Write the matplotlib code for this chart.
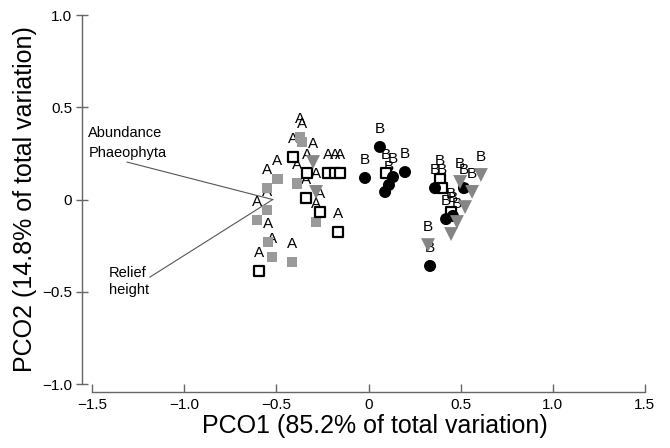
import matplotlib
matplotlib.use("Agg")
import matplotlib.pyplot as plt

plt.rcParams['font.family'] = ['Liberation Sans', 'DejaVu Sans']

# ---- data (PCO scores) ----
sqgray_A_x = [-0.361, -0.372, -0.388, -0.285, -0.496, -0.551, -0.551, -0.605, -0.545, -0.524, -0.415]
sqgray_A_y = [0.312, 0.339, 0.089, -0.122, 0.111, 0.062, -0.057, -0.111, -0.230, -0.312, -0.339]
sqopen_A_x = [-0.410, -0.334, -0.220, -0.182, -0.155, -0.339, -0.263, -0.165, -0.594]
sqopen_A_y = [0.230, 0.144, 0.144, 0.144, 0.144, 0.008, -0.068, -0.176, -0.388]
tri_A_x = [-0.301, -0.285]
tri_A_y = [0.203, 0.041]

circ_B_x = [0.062, -0.019, 0.133, 0.111, 0.090, 0.198, 0.361, 0.518, 0.421, 0.458, 0.334]
circ_B_y = [0.285, 0.117, 0.122, 0.079, 0.041, 0.149, 0.062, 0.062, -0.106, -0.089, -0.360]
sqopen_B_x = [0.095, 0.388, 0.399, 0.448]
sqopen_B_y = [0.144, 0.111, 0.062, -0.068]
tri_B_x = [0.497, 0.610, 0.562, 0.524, 0.480, 0.448, 0.323]
tri_B_y = [0.095, 0.133, 0.041, -0.041, -0.122, -0.187, -0.247]

vec_origin = (-0.52, 0.0)
vec_end_x = [-1.31, -1.186]
vec_end_y = [0.203, -0.42]

xticks = [-1.5, -1.0, -0.5, 0, 0.5, 1.0, 1.5]
xticklabels = ["\u22121.5", "\u22121.0", "\u22120.5", "0", "0.5", "1.0", "1.5"]
yticks = [-1.0, -0.5, 0, 0.5, 1.0]
yticklabels = ["\u22121.0", "\u22120.5", "0", "0.5", "1.0"]

# ---- figure ----
fig = plt.figure(figsize=(6.7, 4.48), dpi=100)
ax = fig.add_axes([82/670, (448-392)/448, (667-82)/670, (392-5.8)/448])
ax.set_xlim(-1.555, 1.62)
ax.set_ylim(-1.043, 1.05)

gray_sq = '#9a9a9a'
gray_tri = '#858585'

def lab(xs, ys, letter):
    for x, y in zip(xs, ys):
        ax.annotate(letter, (x, y), xytext=(0, 13), textcoords='offset points',
                    ha='center', va='center', fontsize=11, color='black', zorder=2)

series = [
    (sqgray_A_x, sqgray_A_y, 'A', dict(marker='s', s=60, c=gray_sq, edgecolors='none')),
    (sqopen_A_x, sqopen_A_y, 'A', dict(marker='s', s=44, facecolors='white', edgecolors='black', linewidths=1.6)),
    (tri_A_x, tri_A_y, 'A', dict(marker='v', s=100, c=gray_tri, edgecolors='none')),
    (sqopen_B_x, sqopen_B_y, 'B', dict(marker='s', s=44, facecolors='white', edgecolors='black', linewidths=1.6)),
    (circ_B_x, circ_B_y, 'B', dict(marker='o', s=75, c='black', edgecolors='none')),
    (tri_B_x, tri_B_y, 'B', dict(marker='v', s=100, c=gray_tri, edgecolors='none')),
]
for xs, ys, letter, kw in series:
    lab(xs, ys, letter)
for xs, ys, letter, kw in series:
    ax.scatter(xs, ys, zorder=3, **kw)

# vectors
for ex, ey in zip(vec_end_x, vec_end_y):
    ax.plot([vec_origin[0], ex], [vec_origin[1], ey], color='#555555', lw=0.8, zorder=1)

ax.text(-1.52, 0.338, "Abundance", fontsize=10.5, ha='left', va='baseline')
ax.text(-1.52, 0.232, "Phaeophyta", fontsize=10.5, ha='left', va='baseline')
ax.text(-1.41, -0.42, "Relief", fontsize=10.5, ha='left', va='baseline')
ax.text(-1.41, -0.51, "height", fontsize=10.5, ha='left', va='baseline')

# axes styling
for s in ['top', 'right']:
    ax.spines[s].set_visible(False)
ax.spines['left'].set_bounds(-1.0, 1.0)
ax.spines['bottom'].set_bounds(-1.5, 1.5)
for s in ['left', 'bottom']:
    ax.spines[s].set_color('#666666')
    ax.spines[s].set_linewidth(1.0)
ax.set_xticks(xticks)
ax.set_xticklabels(xticklabels)
ax.set_yticks(yticks)
ax.set_yticklabels(yticklabels)
ax.tick_params(axis='x', direction='in', length=6, width=1.0, color='#666666', labelsize=11, pad=4)
ax.tick_params(axis='y', direction='inout', length=8, width=1.0, color='#666666', labelsize=11, pad=3)

ax.set_xlabel("PCO1 (85.2% of total variation)", fontsize=18, labelpad=2)
ax.set_ylabel("PCO2 (14.8% of total variation)", fontsize=18, labelpad=4)

fig.savefig("out.png", dpi=100)
